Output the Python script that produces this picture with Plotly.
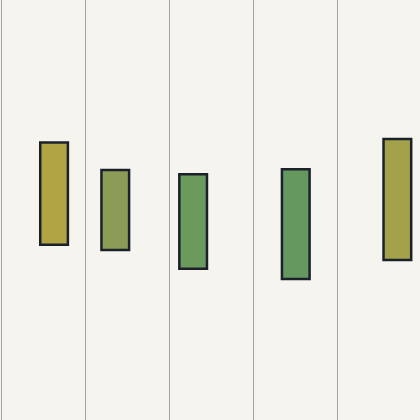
import plotly.graph_objects as go

# Floating bars: center position, bottom and top of each bar
centers = [0.625, 1.355, 2.284, 3.508, 4.72]
lows = [4.17, 4.05, 3.60, 3.36, 3.81]
highs = [6.61, 5.95, 5.85, 5.97, 6.69]
colors = ["#b0a444", "#8a9c55", "#6a9a5c", "#64985e", "#a3a24a"]

fig = go.Figure()

fig.add_trace(go.Bar(
    x=centers,
    y=[h - l for h, l in zip(highs, lows)],
    base=lows,
    width=0.33,
    marker=dict(color=colors, line=dict(color="#1b202b", width=2.5)),
    showlegend=False,
))

fig.update_layout(
    width=420, height=420,
    margin=dict(l=0, r=0, t=0, b=0),
    paper_bgcolor="#f5f4ef",
    plot_bgcolor="#f5f4ef",
    xaxis=dict(range=[-0.02, 4.99], dtick=1, tick0=0, showgrid=True,
               gridcolor="#a4a49e", gridwidth=1.2, zeroline=False,
               showticklabels=False, ticks=""),
    yaxis=dict(range=[0, 10], showgrid=False, zeroline=False,
               showticklabels=False, ticks=""),
)

# drop the browser's default page margin so the chart fills the window
fig.write_html("out.html", config={"displayModeBar": False},
               post_script="document.body.style.margin='0';")
